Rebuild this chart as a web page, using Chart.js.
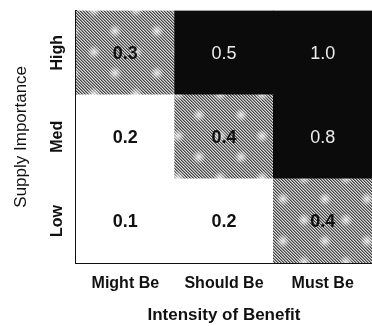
<!DOCTYPE html>
<html>
<head>
<meta charset="utf-8">
<script src="https://cdn.jsdelivr.net/npm/chart.js@4/dist/chart.umd.min.js"></script>
<style>
  html, body { margin: 0; padding: 0; background: #fff; }
  #wrap { position: relative; width: 372px; height: 326px; }
</style>
</head>
<body>
<div id="wrap"><canvas id="heat"></canvas></div>
<script>
// columns (x) and rows (y, bottom to top)
var BENEFIT_LEVELS = ['Might Be', 'Should Be', 'Must Be'];
var SUPPLY_LEVELS = ['Low', 'Med', 'High'];

// cell values per supply row, left to right
var LOW_SUPPLY = [0.1, 0.2, 0.4];
var MED_SUPPLY = [0.2, 0.4, 0.8];
var HIGH_SUPPLY = [0.3, 0.5, 1.0];
var ROWS = [LOW_SUPPLY, MED_SUPPLY, HIGH_SUPPLY];

var FONT = "'Liberation Sans', Arial, sans-serif";

// grey diagonal hatch with soft white spots, like the printed screen tone
function makeHatch() {
  var n = 42;
  var c = document.createElement('canvas');
  c.width = n; c.height = n;
  var g = c.getContext('2d');
  var img = g.createImageData(n, n);
  for (var y = 0; y < n; y++) {
    for (var x = 0; x < n; x++) {
      var m = ((x - y) % 3 + 3) % 3;
      var v = m === 0 ? 65 : (m === 1 ? 145 : 220);
      var o = (y * n + x) * 4;
      img.data[o] = img.data[o + 1] = img.data[o + 2] = v;
      img.data[o + 3] = 255;
    }
  }
  g.putImageData(img, 0, 0);
  [[10, 10], [31, 31], [31, -11], [-11, 31], [52, 31], [31, 52]].forEach(function (p) {
    var r = g.createRadialGradient(p[0], p[1], 0, p[0], p[1], 7);
    r.addColorStop(0, 'rgba(255,255,255,0.8)');
    r.addColorStop(1, 'rgba(255,255,255,0)');
    g.fillStyle = r;
    g.fillRect(p[0] - 7, p[1] - 7, 14, 14);
  });
  return g.createPattern(c, 'repeat');
}

var hatch = makeHatch();

function cellFill(v) {
  if (v >= 0.5) return '#0b0b0b';
  if (v >= 0.3) return hatch;
  return '#ffffff';
}

var cellLabels = {
  id: 'cellLabels',
  afterDatasetsDraw: function (chart) {
    var ctx = chart.ctx;
    chart.data.datasets.forEach(function (ds, di) {
      chart.getDatasetMeta(di).data.forEach(function (bar, i) {
        var v = ROWS[di][i];
        var p = bar.getProps(['x', 'y', 'base'], true);
        var dark = v >= 0.5;
        ctx.save();
        ctx.font = (dark ? '' : 'bold ') + '18px ' + FONT;
        ctx.fillStyle = dark ? '#ececec' : '#111';
        ctx.textAlign = 'center';
        ctx.textBaseline = 'middle';
        ctx.fillText(v.toFixed(1), p.x, (p.y + p.base) / 2 + 1);
        ctx.restore();
      });
    });
  }
};

var datasets = ROWS.map(function (row, ri) {
  return {
    label: SUPPLY_LEVELS[ri],
    data: row.map(function () { return 1; }),
    backgroundColor: row.map(cellFill),
    borderWidth: 0,
    barPercentage: 1,
    categoryPercentage: 1
  };
});

new Chart(document.getElementById('heat').getContext('2d'), {
  type: 'bar',
  data: { labels: BENEFIT_LEVELS, datasets: datasets },
  plugins: [cellLabels],
  options: {
    responsive: true,
    maintainAspectRatio: false,
    devicePixelRatio: 1,
    animation: false,
    layout: { padding: { top: 10, left: 0, right: 0, bottom: 0 } },
    plugins: { legend: { display: false }, tooltip: { enabled: false } },
    scales: {
      x: {
        stacked: true,
        grid: { display: false, drawTicks: false },
        border: { display: true, color: '#111', width: 2 },
        ticks: { color: '#111', padding: 11, font: { family: FONT, size: 16, weight: 'bold' } },
        title: {
          display: true, text: 'Intensity of Benefit', color: '#111',
          padding: { top: 0, bottom: 0 },
          font: { family: FONT, size: 17, weight: 'bold' }
        },
        afterFit: function (s) { s.height = 63; }
      },
      y: {
        stacked: true,
        min: 0,
        max: 3,
        grid: { display: false, drawTicks: false },
        border: { display: true, color: '#111', width: 2 },
        afterBuildTicks: function (s) {
          s.ticks = SUPPLY_LEVELS.map(function (_, i) { return { value: i + 0.5 }; });
        },
        ticks: {
          color: '#111',
          padding: 1,
          minRotation: 90,
          maxRotation: 90,
          crossAlign: 'center',
          font: { family: FONT, size: 16, weight: 'bold' },
          callback: function (v) { return SUPPLY_LEVELS[Math.floor(v)]; }
        },
        title: {
          display: true, text: 'Supply Importance', color: '#111',
          padding: { top: 11, bottom: 0 },
          font: { family: FONT, size: 17 }
        },
        afterFit: function (s) { s.width = 76; }
      }
    }
  }
});
</script>
</body>
</html>
